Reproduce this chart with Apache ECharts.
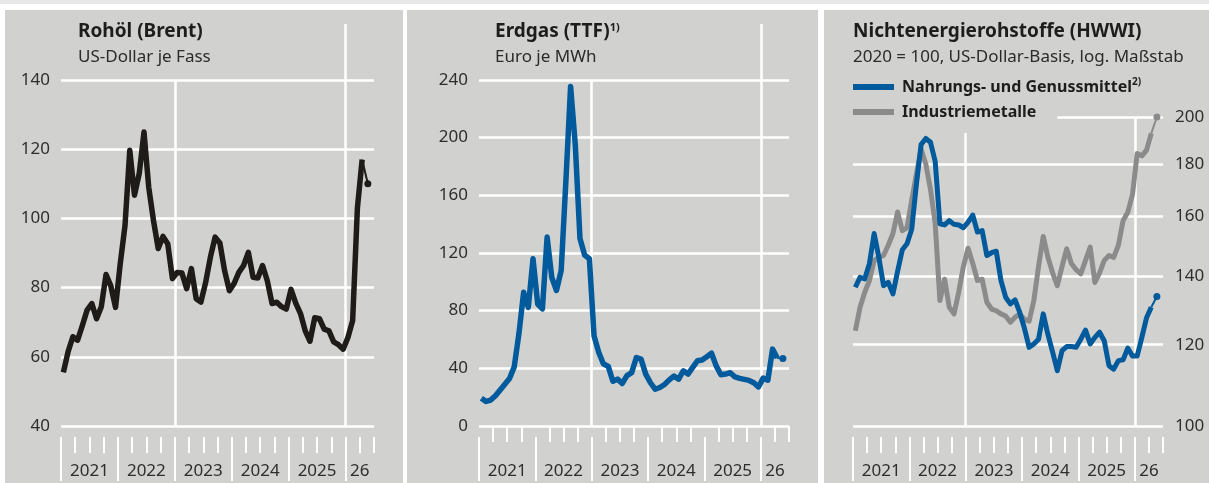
<!DOCTYPE html>
<html>
<head>
<meta charset="utf-8">
<script src="https://cdn.jsdelivr.net/npm/echarts@6/dist/echarts.min.js"></script>
<style>
    html, body { margin: 0; padding: 0; background: #fff; }
    #chart { width: 1209px; height: 483px; }
</style>
</head>
<body>
<div id="chart"></div>
<script>
// Monatswerte Jan 2021 bis Apr 2026
var brent = [55.5, 61.5, 65.8, 64.8, 69, 73.5, 75.4, 71, 74.5, 83.8, 80.5, 74.3,
    87, 98, 119.7, 106.7, 113, 125, 109, 99.4, 91.3, 94.8, 92.7, 82.6,
    84.4, 84.2, 79.7, 85.5, 76.8, 75.8, 81.5, 88.8, 94.6, 92.9, 84.9, 79.1,
    81.2, 84.4, 86.4, 90.2, 83, 82.8, 86.4, 82, 75.4, 75.8, 74.5, 73.8,
    79.5, 75.5, 72.5, 67.5, 64.5, 71.3, 71, 68, 67.5, 64.3, 63.5, 62.2,
    65.6, 70.5, 103, 117];
var ttf = [19.3, 17, 18, 21, 25, 29, 33, 41, 64, 92.7, 82.3, 116,
    84.6, 81.2, 131, 103, 94, 108, 170, 235.4, 195, 130, 118.5, 116,
    62.5, 51, 43, 41.5, 31, 32.5, 29.5, 35, 37, 47.5, 46.4, 36,
    30, 25.5, 26.7, 28.8, 32, 34.6, 32.5, 38.3, 36, 40.6, 45.2, 45.8,
    48, 50.5, 41.7, 35.5, 36, 37, 34, 33, 32.3, 31.6, 30, 27.1,
    33.2, 31.8, 53.3, 47.1];
var food = [136.5, 139.6, 139.1, 144, 154, 146, 137, 138, 134.5, 141.5, 148.5, 150.5,
    155.5, 172, 188, 190.6, 189, 181, 157.4, 157, 158.5, 157.2, 157, 156,
    158, 160.5, 154.5, 155, 146.6, 147.5, 148, 138.6, 133.5, 131.5, 132.7, 129,
    124.5, 119.3, 120.2, 121.5, 128.6, 122.8, 118, 113.2, 118.4, 119.5, 119.5, 119.3,
    121.5, 124, 120.2, 122, 123.4, 121, 114.5, 113.6, 115.8, 116, 119.1, 117,
    117, 122, 127.5, 130.5];
var metals = [123.8, 130.5, 135, 138.6, 145, 146, 146.6, 150, 154, 161.6, 155, 156,
    166, 176, 186, 180, 170, 157.5, 132.5, 139, 130.5, 128.6, 135, 143,
    149, 144, 138.6, 139, 132, 130, 129.5, 128.6, 128, 126.2, 127.6, 128.6,
    127, 126.5, 132.5, 143, 153, 146, 141, 137, 143, 148.8, 144, 142,
    140.7, 145, 149.4, 138, 141, 145, 146.6, 146, 150, 158.5, 161.5, 168,
    184.3, 183.3, 185.7, 192.8];

// aktueller Wert (Punkt am Linienende)
var brentLatest = 110;
var ttfLatest = 46.8;
var foodLatest = 133.7;
var metalsLatest = 200;
var latestMonth = 64.7; // Monate seit Jan 2021

var yearLabels = ["2021", "2022", "2023", "2024", "2025", "26"];
var brentTicks = [40, 60, 80, 100, 120, 140];
var ttfTicks = [0, 40, 80, 120, 160, 200, 240];
var hwwiTicks = [100, 120, 140, 160, 180, 200];

var foodName = "Nahrungs- und Genussmittel";
var metalsName = "Industriemetalle";

var colBlack = "#1f1b18";
var colBlue = "#005a9b";
var colGrey = "#8b8b8b";
var colText = "#1d1d1b";
var colLabel = "#2e2e2d";

var monthsEnd = 66; // Achse bis Jul 2026
var quarterTicks = [];
for (var q = 3; q <= monthsEnd; q += 3) {
    if (q % 12 != 0) quarterTicks.push(q);
}
var yearTicks = [0, 12, 24, 36, 48, 60];
var yearLabelPos = [6, 18, 30, 42, 54, 63];

function monthly(arr) {
    return arr.map(function (v, i) { return [i + 0.5, v]; });
}

function latestLine(arr, last) {
    return [
        { value: [arr.length - 0.5, arr[arr.length - 1]], symbol: "none" },
        [latestMonth, last]
    ];
}

function gridMarks(yBottom, yTop2023, extra) {
    var data = [
        { xAxis: 60 },
        [{ coord: [24, yBottom] }, { coord: [24, yTop2023] }]
    ];
    if (extra) data.push(extra);
    return {
        silent: true,
        symbol: "none",
        z: 1,
        animation: false,
        label: { show: false },
        emphasis: { disabled: true },
        lineStyle: { color: "#fff", width: 2.5, type: "solid" },
        data: data
    };
}

function xAxesFor(gridIndex) {
    var tickStyle = { color: "#fff", width: 2 };
    return [{
        gridIndex: gridIndex, type: "value", min: 0, max: monthsEnd,
        position: "bottom", offset: 11,
        axisLine: { show: false },
        axisTick: { show: true, customValues: quarterTicks, length: 16, lineStyle: tickStyle },
        axisLabel: { show: false },
        splitLine: { show: false }
    }, {
        gridIndex: gridIndex, type: "value", min: 0, max: monthsEnd,
        position: "bottom", offset: 11,
        axisLine: { show: false },
        axisTick: { show: true, customValues: yearTicks, length: 44, lineStyle: tickStyle },
        axisLabel: {
            customValues: yearLabelPos, margin: 26, fontSize: 17, lineHeight: 17, color: colLabel,
            formatter: function (v) { return yearLabels[Math.floor(v / 12)]; }
        },
        splitLine: { show: false }
    }];
}

function yAxisFor(gridIndex, ticks, opt) {
    var ax = {
        gridIndex: gridIndex,
        axisLine: { show: false },
        axisTick: { show: false, customValues: ticks },
        axisLabel: { customValues: ticks, fontSize: 17, color: colLabel, margin: 11 },
        splitLine: { show: true, lineStyle: { color: "#fff", width: 2.5 } }
    };
    for (var k in opt) ax[k] = opt[k];
    return ax;
}

var titleRich = {
    t: { fontSize: 19, fontWeight: "bold", color: colText, lineHeight: 20 },
    s: { fontSize: 11, fontWeight: "bold", color: colText, lineHeight: 12, verticalAlign: "top" }
};

function panelTitle(left, text, sub) {
    return {
        left: left, top: 22, padding: 0, itemGap: 5,
        text: text, subtext: sub,
        textStyle: { fontSize: 19, fontWeight: "bold", color: colText, lineHeight: 20, rich: titleRich },
        subtextStyle: { fontSize: 17, color: "#2b2b2a", lineHeight: 20 }
    };
}

var panelBg = "#d1d1d0";

var chart = echarts.init(document.getElementById("chart"), null, { renderer: "canvas" });
var option = {
    animation: false,
    backgroundColor: "#fff",
    textStyle: { fontFamily: "Noto Sans" },
    graphic: [
        { type: "rect", z: -100, silent: true, shape: { x: 0, y: 0, width: 1209, height: 4 }, style: { fill: "#e8e8e8" } },
        { type: "rect", z: -100, silent: true, shape: { x: 5, y: 10, width: 398, height: 473 }, style: { fill: panelBg } },
        { type: "rect", z: -100, silent: true, shape: { x: 407, y: 10, width: 411, height: 473 }, style: { fill: panelBg } },
        { type: "rect", z: -100, silent: true, shape: { x: 824, y: 10, width: 385, height: 473 }, style: { fill: panelBg } }
    ],
    title: [
        panelTitle(78, "{t|Rohöl (Brent)}", "US-Dollar je Fass"),
        panelTitle(495, "{t|Erdgas (TTF)}{s|1)}", "Euro je MWh"),
        panelTitle(853, "{t|Nichtenergierohstoffe (HWWI)}", "2020 = 100, US-Dollar-Basis, log. Maßstab")
    ],
    legend: {
        data: [foodName, metalsName],
        orient: "vertical", left: 853, top: 77, padding: 0, itemGap: 5,
        itemWidth: 41, itemHeight: 6, icon: "rect", selectedMode: false,
        formatter: function (name) {
            return name == foodName ? "{t|" + name + "}{s|2)}" : "{t|" + name + "}";
        },
        textStyle: {
            fontSize: 16, fontWeight: "bold", color: colText, lineHeight: 20, padding: [0, 0, 0, 3],
            rich: {
                t: { fontSize: 16, fontWeight: "bold", color: colText, lineHeight: 20 },
                s: { fontSize: 10, fontWeight: "bold", color: colText, lineHeight: 12, verticalAlign: "top" }
            }
        }
    },
    grid: [
        { left: 61, top: 24, width: 313, bottom: 57, outerBoundsMode: "none" },
        { left: 479, top: 24, width: 310, bottom: 57, outerBoundsMode: "none" },
        { left: 853, top: 117, width: 310, bottom: 57, outerBoundsMode: "none" }
    ],
    xAxis: [].concat(xAxesFor(0), xAxesFor(1), xAxesFor(2)),
    yAxis: [
        yAxisFor(0, brentTicks, { type: "value", min: 40, max: 156.2 }),
        yAxisFor(1, ttfTicks, { type: "value", min: 0, max: 278.8 }),
        yAxisFor(2, hwwiTicks.slice(0, 5), {
            type: "log", logBase: 10, min: 100, max: 200, position: "right",
            axisLabel: { customValues: hwwiTicks, fontSize: 17, color: colLabel, margin: 12 }
        })
    ],
    series: [{
        name: "Brent", type: "line", xAxisIndex: 0, yAxisIndex: 0,
        data: monthly(brent), symbol: "none", color: colBlack,
        lineStyle: { color: colBlack, width: 5.5, join: "round" },
        markLine: gridMarks(40, 140)
    }, {
        name: "BrentAktuell", type: "line", xAxisIndex: 0, yAxisIndex: 0,
        data: latestLine(brent, brentLatest), symbol: "circle", symbolSize: 7, color: colBlack,
        lineStyle: { color: colBlack, width: 2 }, itemStyle: { color: colBlack }
    }, {
        name: "TTF", type: "line", xAxisIndex: 2, yAxisIndex: 1,
        data: monthly(ttf), symbol: "none", color: colBlue,
        lineStyle: { color: colBlue, width: 5.5, join: "round" },
        markLine: gridMarks(0, 240)
    }, {
        name: "TTFAktuell", type: "line", xAxisIndex: 2, yAxisIndex: 1,
        data: latestLine(ttf, ttfLatest), symbol: "circle", symbolSize: 7, color: colBlue,
        lineStyle: { color: colBlue, width: 2 }, itemStyle: { color: colBlue }
    }, {
        name: metalsName, type: "line", xAxisIndex: 4, yAxisIndex: 2,
        data: monthly(metals), symbol: "none", color: colGrey,
        lineStyle: { color: colGrey, width: 5, join: "round" },
        markLine: gridMarks(100, 193, [{ coord: [43.5, 200] }, { coord: [monthsEnd, 200] }])
    }, {
        name: "MetalleAktuell", type: "line", xAxisIndex: 4, yAxisIndex: 2,
        data: latestLine(metals, metalsLatest), symbol: "circle", symbolSize: 7, color: colGrey,
        lineStyle: { color: colGrey, width: 2 }, itemStyle: { color: colGrey }
    }, {
        name: foodName, type: "line", xAxisIndex: 4, yAxisIndex: 2,
        data: monthly(food), symbol: "none", color: colBlue,
        lineStyle: { color: colBlue, width: 5, join: "round" }
    }, {
        name: "NahrungAktuell", type: "line", xAxisIndex: 4, yAxisIndex: 2,
        data: latestLine(food, foodLatest), symbol: "circle", symbolSize: 7, color: colBlue,
        lineStyle: { color: colBlue, width: 2 }, itemStyle: { color: colBlue }
    }]
};
chart.setOption(option);
</script>
</body>
</html>
